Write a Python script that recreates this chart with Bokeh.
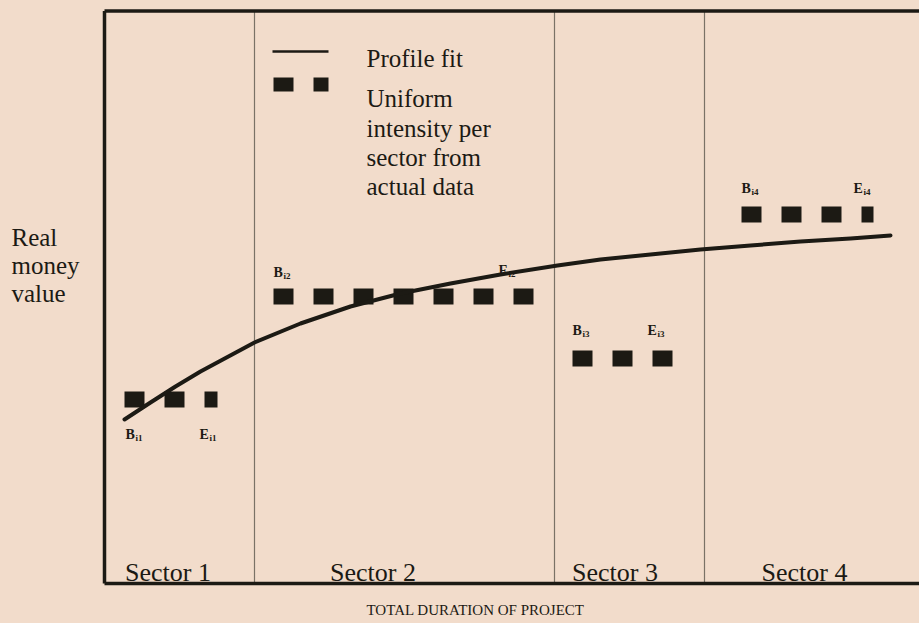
from bokeh.plotting import figure
from bokeh.models import Range1d
from bokeh.embed import file_html
from bokeh.resources import INLINE
from bokeh.core.properties import value

# ---------------- data ----------------
sector_names = ["Sector 1", "Sector 2", "Sector 3", "Sector 4"]
sector_edges = [0, 3, 9, 12]
sector_label_x = [1.27, 5.37, 10.21, 14.0]
sector_label_y = [1.1, 1.1, 1.1, 1.1]

# uniform intensity per sector (actual data)
intensity = [18.4, 28.7, 22.5, 36.9]
seg_start = [0.4, 3.38, 9.36, 12.74]
seg_end = [2.26, 8.6, 11.4, 15.38]

# profile fit curve
fit_x = [0.4, 0.92, 1.42, 1.92, 3.0, 3.92, 4.92, 5.92, 6.92, 7.92,
         9.06, 9.92, 10.92, 11.92, 12.92, 13.92, 14.92, 15.72]
fit_y = [16.4, 18.1, 19.7, 21.2, 24.1, 26.0, 27.7, 29.0, 30.0, 30.9,
         31.8, 32.4, 32.9, 33.4, 33.8, 34.2, 34.5, 34.8]

# B / E markers
mark_text = ["B", "E", "B", "E", "B", "E", "B", "E"]
mark_sub = ["i1", "i1", "i2", "i2", "i3", "i3", "i4", "i4"]
mark_x = [0.42, 1.9, 3.38, 7.88, 9.36, 10.86, 12.74, 14.98]
mark_y = [14.9, 14.9, 31.1, 31.3, 25.3, 25.3, 39.5, 39.5]

legend_texts = ["Profile fit", "Uniform", "intensity per", "sector from", "actual data"]
legend_text_y = [52.5, 48.5, 45.5, 42.6, 39.7]
ylabel_lines = ["Real", "money", "value"]
ylabel_y = [34.6, 31.8, 29.0]
xlabel = "TOTAL DURATION OF PROJECT"

y_top = 57.25
BG = "#f2dccb"
INK = "#1c1a14"
SERIF = value("Liberation Serif")

p = figure(width=919, height=623, output_backend="svg", toolbar_location=None,
           x_range=Range1d(-2.08, 16.3), y_range=Range1d(-4.0, 58.3),
           min_border=0, background_fill_color=BG, border_fill_color=BG)
p.axis.visible = False
p.grid.visible = False
p.outline_line_color = None

# sector dividers
p.segment(x0=sector_edges[1:], y0=[0] * 3, x1=sector_edges[1:], y1=[y_top] * 3,
          line_color="#7a7266", line_width=1.2)

# box (left, top, bottom)
p.segment(x0=[sector_edges[0], sector_edges[0], sector_edges[0]],
          y0=[0, y_top, 0],
          x1=[sector_edges[0], 17, 17],
          y1=[y_top, y_top, 0],
          line_color=INK, line_width=3.5)

# uniform intensity (dashed thick bars)
p.multi_line(xs=[[s, e] for s, e in zip(seg_start, seg_end)],
             ys=[[v, v] for v in intensity],
             line_color=INK, line_width=16, line_dash="20 20", line_cap="butt")

# profile fit
p.line(fit_x, fit_y, line_color=INK, line_width=4, line_cap="round", line_join="round")

# B/E labels
p.text(x=mark_x, y=mark_y, text=mark_text, text_font=SERIF, text_font_size="14px",
       text_font_style="bold", text_color=INK, text_baseline="alphabetic")
p.text(x=[x + 0.2 for x in mark_x], y=[y - 0.3 for y in mark_y], text=mark_sub,
       text_font=SERIF, text_font_size="9px", text_font_style="bold",
       text_color=INK, text_baseline="alphabetic")

# legend
p.line([3.36, 4.48], [53.2, 53.2], line_color=INK, line_width=2.5)
p.line([3.38, 4.48], [49.9, 49.9], line_color=INK, line_width=14, line_dash="20 20")
p.text(x=[5.24] * len(legend_texts), y=legend_text_y, text=legend_texts,
       text_font=SERIF, text_font_size="25px", text_color=INK,
       text_baseline="alphabetic")

# sector labels
p.text(x=sector_label_x, y=sector_label_y, text=sector_names, text_font=SERIF,
       text_font_size="26px", text_color=INK, text_align="center",
       text_baseline="alphabetic")

# y label
p.text(x=[-1.86] * 3, y=ylabel_y, text=ylabel_lines, text_font=SERIF,
       text_font_size="25px", text_color=INK, text_baseline="alphabetic")

# x label
p.text(x=[7.42], y=[-2.6], text=[xlabel], text_font=SERIF, text_font_size="15px",
       text_color=INK, text_align="center", text_baseline="alphabetic")

html = file_html(p, INLINE)
html = html.replace(
    "</head>",
    "<style>html,body{margin:0;padding:0;overflow:hidden;background-color:%s;}</style></head>" % BG,
    1)
open("out.html", "w").write(html)
